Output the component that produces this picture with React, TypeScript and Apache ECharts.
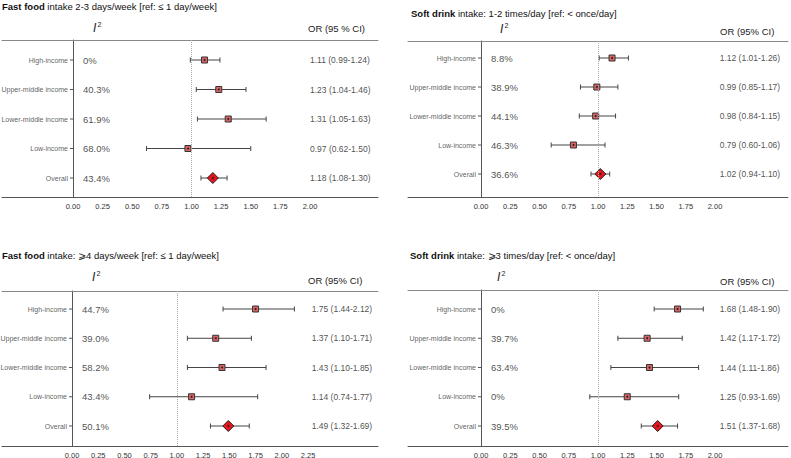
import React, { useEffect, useRef } from "react";
import * as echarts from "echarts";

// ---------- data ----------
const regions = ["High-income", "Upper-middle income", "Lower-middle income", "Low-income", "Overall"];

const ff23Or = [1.11, 1.23, 1.31, 0.97, 1.18];
const ff23Lo = [0.99, 1.04, 1.05, 0.62, 1.08];
const ff23Hi = [1.24, 1.46, 1.63, 1.5, 1.3];
const ff23I2 = ["0%", "40.3%", "61.9%", "68.0%", "43.4%"];

const sd12Or = [1.12, 0.99, 0.98, 0.79, 1.02];
const sd12Lo = [1.01, 0.85, 0.84, 0.6, 0.94];
const sd12Hi = [1.26, 1.17, 1.15, 1.06, 1.1];
const sd12I2 = ["8.8%", "38.9%", "44.1%", "46.3%", "36.6%"];

const ff4Or = [1.75, 1.37, 1.43, 1.14, 1.49];
const ff4Lo = [1.44, 1.1, 1.1, 0.74, 1.32];
const ff4Hi = [2.12, 1.71, 1.85, 1.77, 1.69];
const ff4I2 = ["44.7%", "39.0%", "58.2%", "43.4%", "50.1%"];

const sd3Or = [1.68, 1.42, 1.44, 1.25, 1.51];
const sd3Lo = [1.48, 1.17, 1.11, 0.93, 1.37];
const sd3Hi = [1.9, 1.72, 1.86, 1.69, 1.68];
const sd3I2 = ["0%", "39.7%", "63.4%", "0%", "39.5%"];

const ticks200 = [0, 0.25, 0.5, 0.75, 1, 1.25, 1.5, 1.75, 2];
const ticks225 = [0, 0.25, 0.5, 0.75, 1, 1.25, 1.5, 1.75, 2, 2.25];

const titleBold = ["Fast food", "Soft drink", "Fast food", "Soft drink"];
const titleRest = [
  " intake 2-3 days/week [ref: \u2264 1 day/week]",
  " intake: 1-2 times/day [ref: < once/day]",
  " intake: \u2A7E4 days/week [ref: \u2264 1 day/week]",
  " intake: \u2A7E3 times/day [ref: < once/day]",
];
const orHeaders = ["OR (95 % CI)", "OR (95% CI)", "OR (95% CI)", "OR (95% CI)"];

const panelData = [
  { or: ff23Or, lo: ff23Lo, hi: ff23Hi, i2: ff23I2, ticks: ticks200 },
  { or: sd12Or, lo: sd12Lo, hi: sd12Hi, i2: sd12I2, ticks: ticks200 },
  { or: ff4Or, lo: ff4Lo, hi: ff4Hi, i2: ff4I2, ticks: ticks225 },
  { or: sd3Or, lo: sd3Lo, hi: sd3Hi, i2: sd3I2, ticks: ticks200 },
];

// ---------- layout (pixels) ----------
const layouts = [
  { left: 2, right: 378, top: 40, bottom: 197, x0: 73, k: 118.5, row0: 60, row4: 178, orX: 2.0,
    titleX: 2, titleY: 7, iX: 93, iY: 28, orHX: 308, orHY: 28 },
  { left: 408, right: 788, top: 41, bottom: 197, x0: 481, k: 117, row0: 58, row4: 174, orX: 2.04,
    titleX: 411, titleY: 14, iX: 500, iY: 29, orHX: 720, orHY: 31 },
  { left: 2, right: 378, top: 291, bottom: 446, x0: 72, k: 104.9, row0: 309, row4: 426, orX: 2.285,
    titleX: 2, titleY: 256, iX: 92, iY: 277, orHX: 308, orHY: 280 },
  { left: 408, right: 788, top: 290, bottom: 446, x0: 481, k: 117, row0: 309, row4: 426, orX: 2.04,
    titleX: 410, titleY: 256, iX: 497, iY: 277, orHX: 720, orHY: 281 },
];

const FONT = "'Liberation Sans', Arial, Helvetica, sans-serif";
const AXIS_COLOR = "#555";

function buildOption() {
  const grid: any[] = [];
  const xAxis: any[] = [];
  const yAxis: any[] = [];
  const series: any[] = [];
  const graphic: any[] = [];

  layouts.forEach((L, p) => {
    const d = panelData[p];
    const dy = (L.row4 - L.row0) / 4;
    grid.push({
      left: L.left,
      top: L.top,
      width: L.right - L.left,
      height: L.bottom - L.top,
      containLabel: false,
      outerBoundsMode: "none",
    });
    const xmin = (L.left - L.x0) / L.k;
    const xmax = (L.right - L.x0) / L.k;
    xAxis.push({
      type: "value",
      gridIndex: p,
      min: xmin,
      max: xmax,
      position: "bottom",
      axisLine: { show: true, onZero: false, lineStyle: { color: AXIS_COLOR, width: 1 } },
      axisTick: { show: false },
      splitLine: { show: false },
      axisLabel: {
        customValues: d.ticks,
        formatter: (v: number) => v.toFixed(2),
        fontSize: 7.5,
        color: "#333",
        margin: 5,
        fontFamily: FONT,
      },
    });
    xAxis.push({
      type: "value",
      gridIndex: p,
      min: xmin,
      max: xmax,
      position: "top",
      axisLine: { show: true, onZero: false, lineStyle: { color: "#888", width: 1 } },
      axisTick: { show: false },
      splitLine: { show: false },
      axisLabel: { show: false },
    });
    yAxis.push({
      type: "value",
      gridIndex: p,
      inverse: true,
      min: -(L.row0 - L.top) / dy,
      max: 4 + (L.bottom - L.row4) / dy,
      axisLine: { show: true, onZero: true, lineStyle: { color: AXIS_COLOR, width: 1 } },
      axisTick: { show: false },
      splitLine: { show: false },
      axisLabel: { show: false },
    });

    const xi = p * 2;
    // confidence intervals + row ticks on the y axis
    series.push({
      type: "custom",
      xAxisIndex: xi,
      yAxisIndex: p,
      z: 2,
      encode: { x: [1, 2], y: 0 },
      data: regions.map((_, i) => [i, d.lo[i], d.hi[i]]),
      renderItem: (params: any, api: any) => {
        const row = api.value(0);
        const a = api.coord([api.value(1), row]);
        const b = api.coord([api.value(2), row]);
        const z = api.coord([0, row]);
        const h = 2.5;
        const style = { stroke: "#444", lineWidth: 1, fill: null };
        return {
          type: "group",
          children: [
            { type: "line", shape: { x1: a[0], y1: a[1], x2: b[0], y2: b[1] }, style },
            { type: "line", shape: { x1: a[0], y1: a[1] - h, x2: a[0], y2: a[1] + h }, style },
            { type: "line", shape: { x1: b[0], y1: b[1] - h, x2: b[0], y2: b[1] + h }, style },
            { type: "line", shape: { x1: z[0] - 3, y1: z[1], x2: z[0], y2: z[1] }, style: { stroke: AXIS_COLOR, lineWidth: 1 } },
          ],
        };
      },
      markLine: {
        silent: true,
        symbol: ["none", "none"],
        label: { show: false },
        lineStyle: { type: "dotted", color: "#aaa", width: 1 },
        data: [{ xAxis: 1 }],
      },
    });
    // squares
    series.push({
      type: "scatter",
      xAxisIndex: xi,
      yAxisIndex: p,
      z: 3,
      symbol: "rect",
      symbolSize: 6,
      itemStyle: { color: "#dc6464", borderColor: "#333", borderWidth: 1, opacity: 1 },
      data: regions.slice(0, 4).map((_, i) => [d.or[i], i]),
    });
    // diamond
    series.push({
      type: "scatter",
      xAxisIndex: xi,
      yAxisIndex: p,
      z: 3,
      symbol: "diamond",
      symbolSize: 11,
      itemStyle: { color: "#e8141b", borderColor: "#222", borderWidth: 1, opacity: 1 },
      data: [[d.or[4], 4]],
    });
    // centre dots
    series.push({
      type: "scatter",
      xAxisIndex: xi,
      yAxisIndex: p,
      z: 4,
      symbol: "circle",
      symbolSize: 2,
      itemStyle: { color: "#222", opacity: 1 },
      data: regions.map((_, i) => [d.or[i], i]),
    });
    // category labels
    series.push({
      type: "scatter",
      xAxisIndex: xi,
      yAxisIndex: p,
      symbolSize: 0,
      silent: true,
      label: {
        show: true,
        position: "left",
        distance: 5,
        formatter: "{b}",
        fontSize: 7,
        color: "#333",
        fontFamily: FONT,
      },
      data: regions.map((r, i) => ({ value: [0, i], name: r })),
    });
    // I² labels
    series.push({
      type: "scatter",
      xAxisIndex: xi,
      yAxisIndex: p,
      symbolSize: 0,
      silent: true,
      label: {
        show: true,
        position: "right",
        distance: 10,
        formatter: "{b}",
        fontSize: 9.5,
        color: "#222",
        fontFamily: FONT,
      },
      data: regions.map((_, i) => ({ value: [0, i], name: d.i2[i] })),
    });
    // OR labels
    series.push({
      type: "scatter",
      xAxisIndex: xi,
      yAxisIndex: p,
      symbolSize: 0,
      silent: true,
      label: {
        show: true,
        position: "right",
        distance: 0,
        formatter: "{b}",
        fontSize: 8.5,
        color: "#222",
        fontFamily: FONT,
      },
      data: regions.map((_, i) => ({
        value: [L.orX, i],
        name: `${d.or[i].toFixed(2)} (${d.lo[i].toFixed(2)}-${d.hi[i].toFixed(2)})`,
      })),
    });

    // titles and headers
    graphic.push({
      type: "text",
      left: L.titleX,
      top: L.titleY - 6,
      style: {
        text: `{b|${titleBold[p]}}{n|${titleRest[p]}}`,
        rich: {
          b: { fontWeight: "bold", fontSize: 9.5, fontFamily: FONT, fill: "#111" },
          n: { fontSize: 9.5, fontFamily: FONT, fill: "#111" },
        },
      },
    });
    graphic.push({
      type: "text",
      x: L.iX,
      y: L.iY,
      style: {
        text: "I",
        fontSize: 12,
        fontStyle: "italic",
        fontFamily: FONT,
        fill: "#222",
        verticalAlign: "middle",
        align: "left",
      },
    });
    graphic.push({
      type: "text",
      x: L.iX + 4.5,
      y: L.iY - 4,
      style: {
        text: "2",
        fontSize: 7,
        fontFamily: FONT,
        fill: "#222",
        verticalAlign: "middle",
        align: "left",
      },
    });
    graphic.push({
      type: "text",
      x: L.orHX,
      y: L.orHY,
      style: {
        text: orHeaders[p],
        fontSize: 9.5,
        fontFamily: FONT,
        fill: "#222",
        verticalAlign: "middle",
        align: "left",
      },
    });
  });

  return {
    animation: false,
    backgroundColor: "#ffffff",
    textStyle: { fontFamily: FONT },
    grid,
    xAxis,
    yAxis,
    series,
    graphic,
  };
}

export default function App() {
  const ref = useRef<HTMLDivElement>(null);
  useEffect(() => {
    if (!ref.current) return;
    const chart = echarts.init(ref.current, undefined, { renderer: "svg" });
    chart.setOption(buildOption() as any);
    return () => chart.dispose();
  }, []);
  return (
    <div
      ref={ref}
      style={{ position: "fixed", left: 0, top: 0, width: 791, height: 458, background: "#fff" }}
    />
  );
}
